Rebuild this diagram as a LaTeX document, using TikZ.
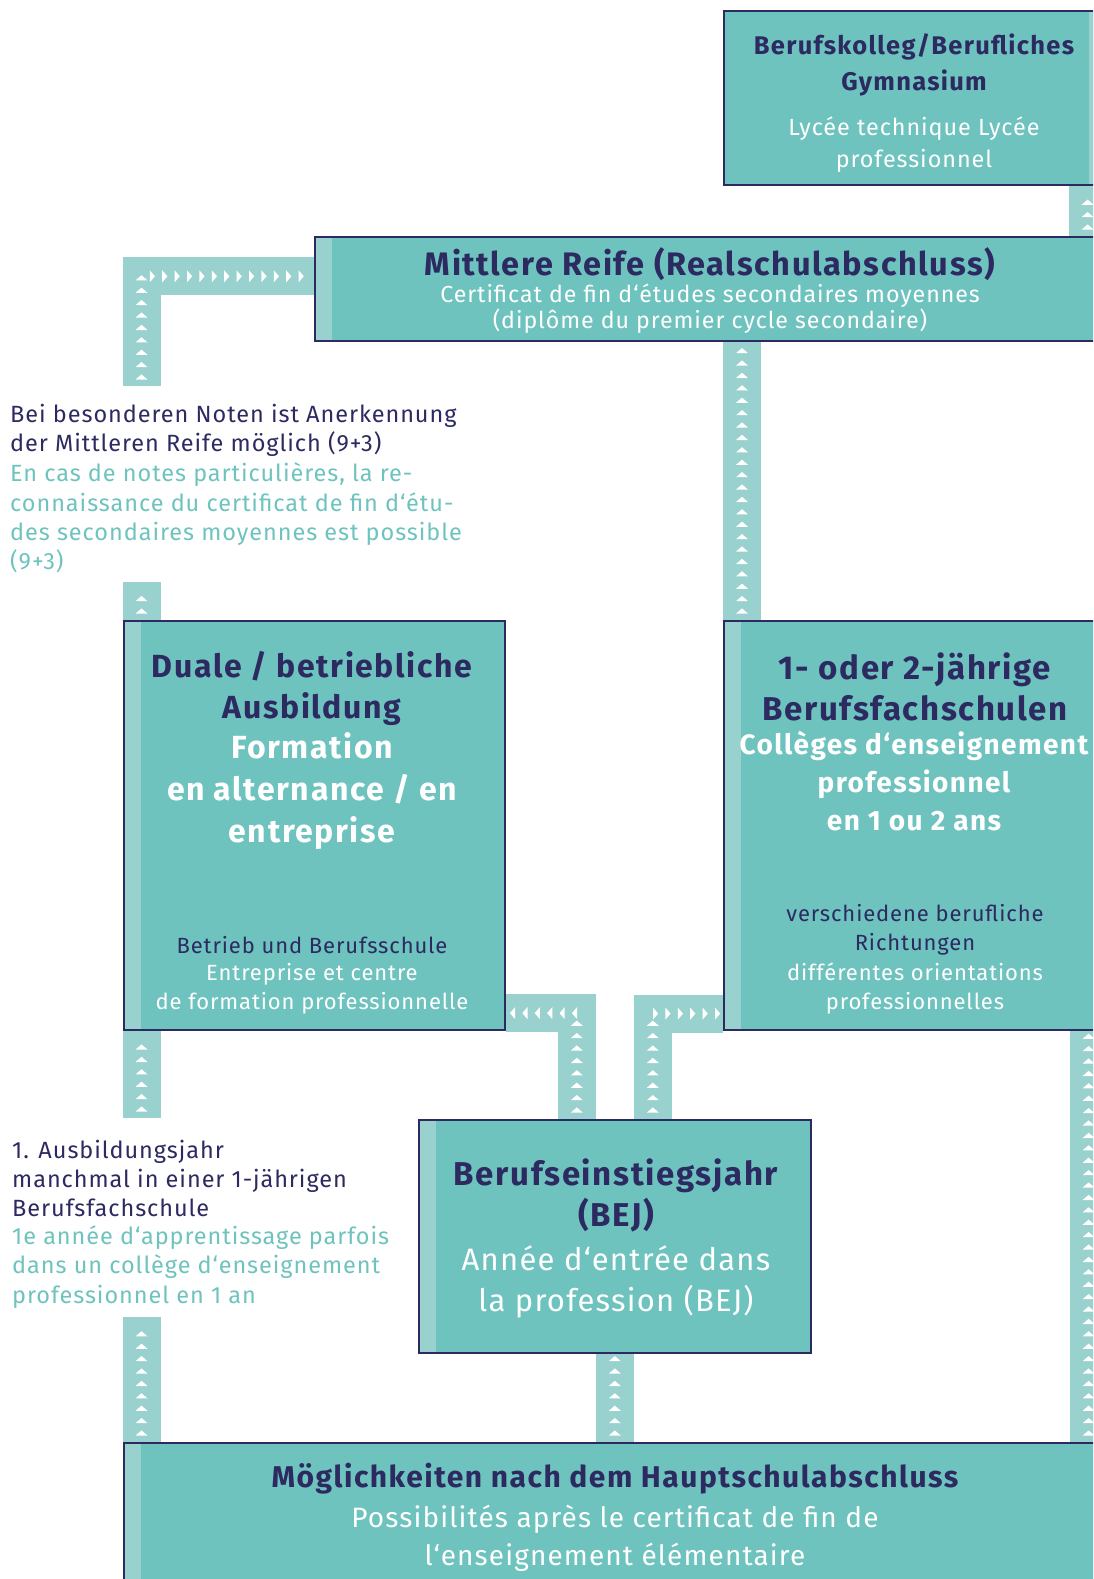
\documentclass[tikz,border=0pt]{standalone}
\usepackage{fontspec}
\setmainfont{Fira Sans}[LetterSpace=4,BoldFeatures={LetterSpace=5}]
\usetikzlibrary{decorations.markings,backgrounds}
\definecolor{boxteal}{RGB}{110,195,190}
\definecolor{pale}{RGB}{152,209,205}
\definecolor{navy}{RGB}{44,42,96}
\tikzset{
  box/.style={draw=navy,line width=1.6pt,fill=boxteal,anchor=north west,inner sep=0pt,
    path picture={\fill[pale] (path picture bounding box.north west) rectangle ([xshift=17pt]path picture bounding box.south west);}},
  boxr/.style={box,path picture={\fill[pale] ([xshift=-15pt]path picture bounding box.north east) rectangle (path picture bounding box.south east);}},
  strip/.style={draw=pale,line width=38pt,line join=miter,postaction={decorate},
    decoration={markings,mark=between positions 9pt and -5pt step 12.4pt with {\fill[white] (-2.6pt,-6pt)--(2.6pt,0pt)--(-2.6pt,6pt)--cycle;}}},
  txt/.style={inner sep=0pt,align=center},
  note/.style={inner sep=0pt,align=left,anchor=west},
}
\begin{document}
\begin{tikzpicture}[x=1pt,y=-1pt]
  \useasboundingbox (0,0) rectangle (1093,1579);
  \clip (0,0) rectangle (1093,1579);
  % boxes
  \node[boxr,minimum width=380pt,minimum height=174pt] (kolleg) at (723,10) {};
  \node[box,minimum width=792pt,minimum height=104pt] (mittlere) at (314,236) {};
  \node[box,minimum width=381pt,minimum height=409pt] (duale) at (123,620) {};
  \node[box,minimum width=380pt,minimum height=409pt] (fach) at (723,620) {};
  \node[box,minimum width=392pt,minimum height=233pt] (bej) at (418,1119) {};
  \node[box,minimum width=984pt,minimum height=200pt] (moeg) at (123,1442) {};
  % box texts
  \node[txt,text=navy,font=\fontsize{25.5}{36}\selectfont\bfseries] (kT1) at (914,65) {Berufskolleg/Berufliches\\Gymnasium};
  \node[txt,text=white,font=\fontsize{23.4}{32}\selectfont] (kT2) at (914,145) {Lycée technique Lycée\\professionnel};
  \node[txt,text=navy,font=\fontsize{32.5}{34}\selectfont\bfseries] (mT1) at (710,264) {Mittlere Reife (Realschulabschluss)};
  \node[txt,text=white,font=\fontsize{23.2}{26}\selectfont] (mT2) at (710,309) {Certificat de fin d‘études secondaires moyennes\\(diplôme du premier cycle secondaire)};
  \node[txt,text=navy,font=\fontsize{32}{41}\selectfont\bfseries] (dT1) at (312,688.5) {Duale / betriebliche\\Ausbildung};
  \node[txt,text=white,font=\fontsize{32}{42}\selectfont\bfseries] (dT2) at (312,791) {Formation\\en alternance / en\\entreprise};
  \node[txt,text=navy,font=\fontsize{22}{29}\selectfont] (dB1) at (312,945) {Betrieb und Berufsschule};
  \node[txt,text=white,font=\fontsize{22}{29}\selectfont] (dB2) at (312,989) {Entreprise et centre\\de formation professionnelle};
  \node[txt,text=navy,font=\fontsize{33}{41}\selectfont\bfseries] (fT1) at (915,687) {1- oder 2-jährige\\Berufsfachschulen};
  \node[txt,text=white,font=\fontsize{28}{38}\selectfont\bfseries] (fT2) at (914,781.5) {Collèges d‘enseignement\\professionnel\\en 1 ou 2 ans};
  \node[txt,text=navy,font=\fontsize{22}{29}\selectfont] (fB1) at (915,929.5) {verschiedene berufliche\\Richtungen};
  \node[txt,text=white,font=\fontsize{22}{29}\selectfont] (fB2) at (915,989) {différentes orientations\\professionnelles};
  \node[txt,text=navy,font=\fontsize{33}{41}\selectfont\bfseries] (bT1) at (616,1195) {Berufseinstiegsjahr\\(BEJ)};
  \node[txt,text=white,font=\fontsize{31}{41}\selectfont] (bT2) at (616,1281.5) {Année d‘entrée dans\\la profession (BEJ)};
  \node[txt,text=navy,font=\fontsize{30}{40}\selectfont\bfseries] (gT1) at (615,1479) {Möglichkeiten nach dem Hauptschulabschluss};
  \node[txt,text=white,font=\fontsize{28}{38}\selectfont] (gT2) at (615,1538.5) {Possibilités après le certificat de fin de\\l‘enseignement élémentaire};
  % side notes
  \node[note,text=navy,font=\fontsize{23.5}{29.4}\selectfont] (nA1) at (10,430.5) {Bei besonderen Noten ist Anerkennung\\der Mittleren Reife möglich (9+3)};
  \node[note,text=boxteal,font=\fontsize{23.5}{29.4}\selectfont] (nA2) at (10,518) {En cas de notes particulières, la re-\\connaissance du certificat de fin d‘étu-\\des secondaires moyennes est possible\\(9+3)};
  \node[note,text=navy,font=\fontsize{23.5}{29.4}\selectfont] (nB1) at (12,1178.5) {1. Ausbildungsjahr\\manchmal in einer 1-jährigen\\Berufsfachschule};
  \node[note,text=boxteal,font=\fontsize{23.5}{29.4}\selectfont] (nB2) at (12,1267) {1e année d‘apprentissage parfois\\dans un collège d‘enseignement\\professionnel en 1 an};
  % strips
  \coordinate (c1) at ([xshift=-17pt]kolleg.south east);
  \coordinate (c2) at ([xshift=19pt]fach.north west);
  \coordinate (c3) at ([xshift=18.5pt]duale.north west);
  \coordinate (c7) at ([xshift=-38pt]bej.north);
  \coordinate (c8) at ([xshift=38pt]bej.north);
  \coordinate (c10) at ([xshift=-16pt]fach.south east);
  \coordinate (n1top) at (141.5,386);
  \coordinate (n1bot) at (141.5,582);
  \coordinate (n2top) at (141.5,1118);
  \coordinate (n2bot) at (141.5,1317);
  \begin{scope}[on background layer]
    \clip (0,0) rectangle (1093,1579);
    \draw[strip] (mittlere.north -| c1) -- (c1);
    \draw[strip] (c2) -- (c2 |- mittlere.south);
    \draw[strip] (n1top) |- ([yshift=12.5pt]mittlere.west);
    \draw[strip] (c3) -- (n1bot);
    \draw[strip] (n2top) -- (c3 |- duale.south);
    \draw[strip] (moeg.north -| c3) -- (n2bot);
    \draw[strip] (c7) |- ([yshift=17.5pt]duale.south east);
    \draw[strip] (c8) |- ([yshift=17pt]fach.south west);
    \draw[strip] (bej.south |- moeg.north) -- (bej.south);
    \draw[strip] (moeg.north -| c10) -- (c10);
  \end{scope}
\end{tikzpicture}
\end{document}
